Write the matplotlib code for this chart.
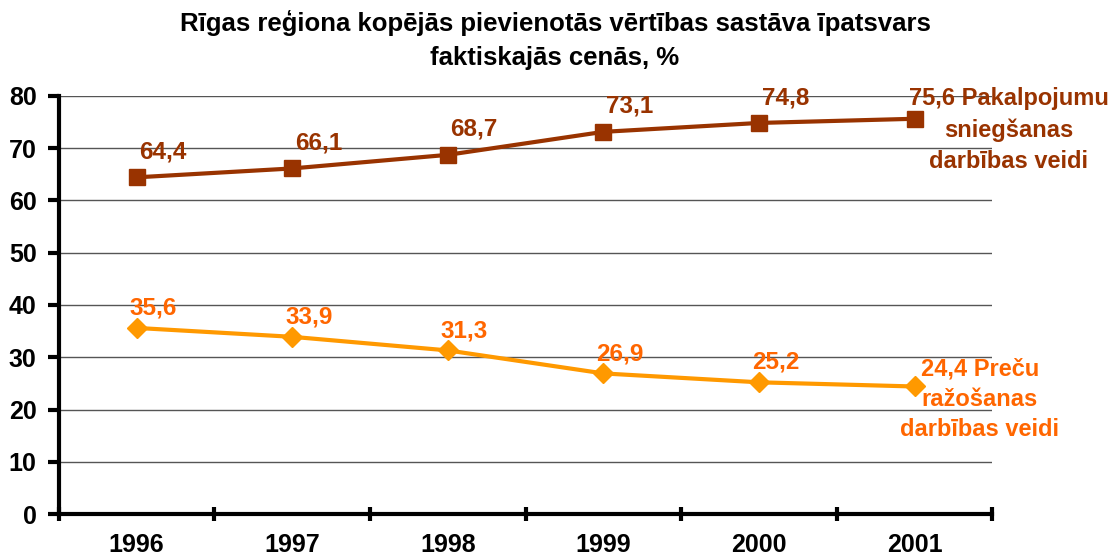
import numpy as np
import matplotlib.pyplot as plt

plt.rcParams['font.family'] = ['Liberation Sans', 'DejaVu Sans']
plt.rcParams['font.weight'] = 'bold'

years = ['1996', '1997', '1998', '1999', '2000', '2001']
services = [64.4, 66.1, 68.7, 73.1, 74.8, 75.6]
goods = [35.6, 33.9, 31.3, 26.9, 25.2, 24.4]

dark = '#993300'
orange = '#FF9900'
orange_txt = '#FF6600'

fig = plt.figure(figsize=(11.1, 5.6), dpi=100)
ax = fig.add_axes([0.053, 0.082, 0.841, 0.747])

x = np.arange(1, len(years) + 1)
ax.plot(x, services, color=dark, lw=3, marker='s', ms=11, zorder=5)
ax.plot(x, goods, color=orange, lw=3, marker='D', ms=10, zorder=5)

ax.set_xlim(0.5, len(years) + 0.5)
ax.set_ylim(0, 80)
ax.set_yticks(range(0, 81, 10))
ax.set_xticks(np.arange(0.5, len(years) + 1, 1))
ax.set_xticklabels([])
# year labels sit between the boundary ticks
for xi, y in zip(x, years):
    ax.text(xi, -0.074, y, transform=ax.get_xaxis_transform(), ha='center', va='center',
            fontsize=18, fontweight='bold')

for yv in range(10, 81, 10):
    ax.axhline(yv, color='#555555', lw=1, zorder=1)

for s in ['top', 'right']:
    ax.spines[s].set_visible(False)
for s in ['left', 'bottom']:
    ax.spines[s].set_linewidth(3)
ax.tick_params(axis='y', direction='out', length=8, width=3, labelsize=18, pad=8)
ax.tick_params(axis='x', direction='inout', length=10, width=3)
for lab in ax.get_yticklabels():
    lab.set_fontweight('bold')

def fmt(v):
    return f'{v:.1f}'.replace('.', ',')

for xi, v in zip(x[:-1], services[:-1]):
    ax.annotate(fmt(v), (xi, v), xytext=(2, 10), textcoords='offset points',
                ha='left', va='bottom', color=dark, fontsize=17.5, fontweight='bold')
for xi, v in zip(x[:-1], goods[:-1]):
    ax.annotate(fmt(v), (xi, v), xytext=(-5, 6), textcoords='offset points',
                ha='left', va='bottom', color=orange_txt, fontsize=17.5, fontweight='bold')

ax.annotate(fmt(services[-1]) + ' Pakalpojumu\nsniegšanas\ndarbības veidi', (x[-1], services[-1]),
            xytext=(68, 23), textcoords='offset points', ha='center', va='top',
            color=dark, fontsize=17, fontweight='bold', linespacing=1.45, annotation_clip=False)
ax.annotate(fmt(goods[-1]) + ' Preču\nražošanas\ndarbības veidi', (x[-1], goods[-1]),
            xytext=(47, 21), textcoords='offset points', ha='center', va='top',
            color=orange_txt, fontsize=17, fontweight='bold', linespacing=1.4, annotation_clip=False)

fig.suptitle('Rīgas reģiona kopējās pievienotās vērtības sastāva īpatsvars\nfaktiskajās cenās, %',
             x=0.5, y=0.982, fontsize=18.5, fontweight='bold', linespacing=1.5)

fig.savefig('out.png', dpi=100)
